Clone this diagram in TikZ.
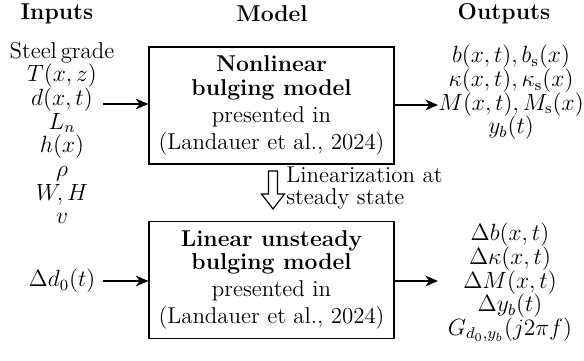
\documentclass[tikz,border=0pt]{standalone}
\usetikzlibrary{arrows.meta}
\begin{document}
\begin{tikzpicture}[x=0.5107pt,y=-0.5107pt,
  every node/.style={font=\fontsize{11.7pt}{12.1pt}\selectfont},
  modelbox/.style={draw,line width=0.6pt,minimum width=125.1pt,minimum height=59.8pt,align=center,inner sep=1pt,
    font=\fontsize{11.7pt}{13.8pt}\selectfont},
  col/.style={align=center,inner sep=0pt},
  arr/.style={line width=0.6pt,-{Stealth[length=6.5pt,width=5.5pt]}},
  head/.style={font=\fontsize{11.7pt}{12.1pt}\selectfont\bfseries,inner sep=0pt}]
\useasboundingbox (0,0) rectangle (584,361);
\node[head] (hin) at (57,14) {Inputs};
\node[head] (hmod) at (272,14) {Model};
\node[head] (hout) at (504,14) {Outputs};

\node[col] (inp) at (62,133) {Steel\,grade\\ \(T(x,z)\)\\ \(d(x,t)\)\\ \(L_n\)\\ \(h(x)\)\\ \(\rho\)\\ \(W,H\)\\ \(v\)};
\node[col] (din) at (62,281) {\(\Delta d_0(t)\)};

\node[modelbox] (nl) at (271.5,105.5) {\textbf{Nonlinear}\\[-2pt] \textbf{bulging model}\\ presented in\\ (Landauer et al., 2024)};
\node[modelbox] (lin) at (271.5,280) {\textbf{Linear unsteady}\\[-2pt] \textbf{bulging model}\\ presented in\\ (Landauer et al., 2024)};

\node[col] (out1) at (511,92.5) {\(b(x,t),b_{\mathrm{s}}(x)\)\\ \(\kappa(x,t),\kappa_{\mathrm{s}}(x)\)\\ \(M(x,t),M_{\mathrm{s}}(x)\)\\ \(y_b(t)\)};
\node[col] (out2) at (510,282.5) {\(\Delta b(x,t)\)\\ \(\Delta\kappa(x,t)\)\\ \(\Delta M(x,t)\)\\ \(\Delta y_b(t)\)\\ \(G_{d_0,y_b}(j2\pi f)\)};

\coordinate (a1s) at (103,104);
\coordinate (a2s) at (103,281);
\coordinate (o1e) at (438,105);
\coordinate (o2e) at (438,281);
\draw[arr] (a1s) -- (a1s -| nl.west);
\draw[arr] (a2s) -- (a2s -| lin.west);
\draw[arr] (o1e -| nl.east) -- (o1e);
\draw[arr] (o2e -| lin.east) -- (o2e);

\draw[line width=0.6pt,fill=white] (268.5,171) -- (277.5,171) -- (277.5,194) -- (284.5,194) -- (273,209) -- (261.5,194) -- (268.5,194) -- cycle;
\node[align=left,anchor=west,inner sep=0pt,font=\fontsize{11.7pt}{11.5pt}\selectfont] (lintxt) at (286,188) {Linearization at\\ steady state};
\end{tikzpicture}
\end{document}
